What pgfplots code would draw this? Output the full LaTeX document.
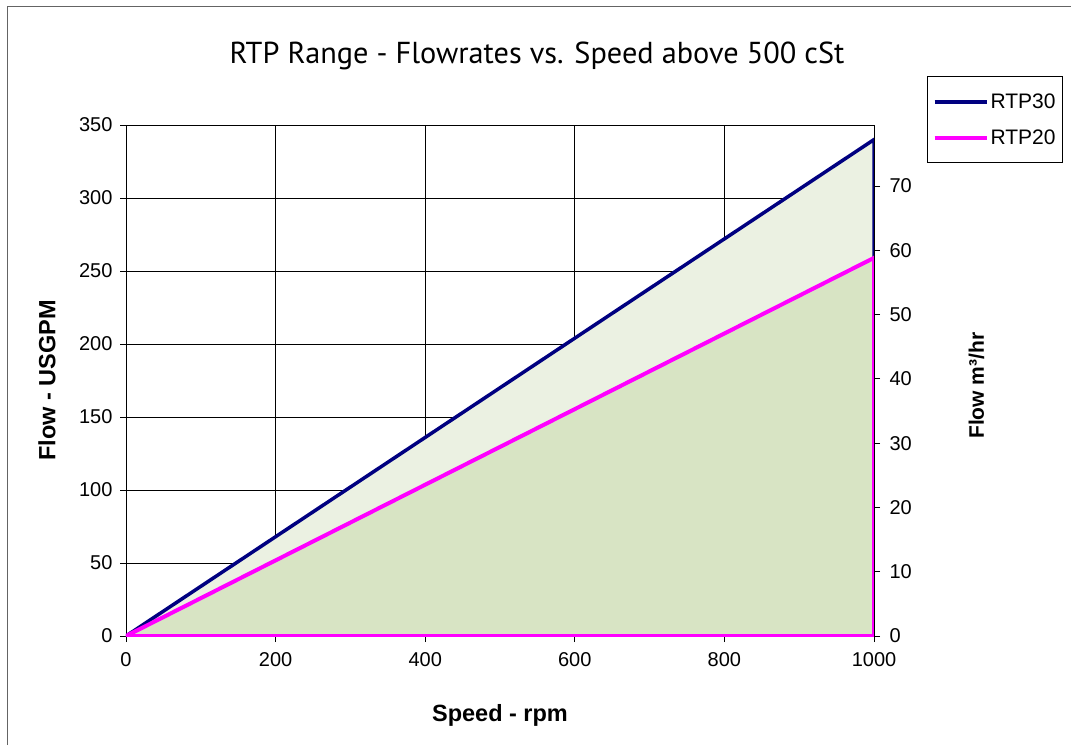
\documentclass[border=0pt]{standalone}
\usepackage{fontspec}
\setmainfont{Liberation Sans}
\newfontfamily\titlefont{PT Sans}
\usepackage{pgfplots}
\pgfplotsset{compat=1.18}
\definecolor{navyc}{RGB}{0,0,128}
\definecolor{magc}{RGB}{255,0,255}
\definecolor{fillA}{RGB}{235,241,226}
\definecolor{fillB}{RGB}{216,228,196}
\definecolor{framec}{RGB}{100,100,100}
\begin{document}
\begin{tikzpicture}[x=1pt,y=1pt]
\useasboundingbox (0,0) rectangle (1071,745);
\draw[framec, line width=1.5pt] (7.5,0) -- (7.5,738.5) -- (1071,738.5);
\node[font=\titlefont\fontsize{30.3}{34}\selectfont] at (537,689) {RTP Range - Flowrates vs. Speed above 500 cSt};
\begin{axis}[
  at={(126pt,109pt)}, anchor=south west,
  width=748pt, height=511pt, scale only axis,
  xmin=0, xmax=1000, ymin=0, ymax=350,
  xtick={0,200,...,1000}, ytick={0,50,...,350},
  xtick pos=bottom, ytick pos=left,
  tick align=outside, major tick length=6pt,
  grid=major, major grid style={black, line width=0.8pt},
  axis line style={black, line width=0.8pt},
  every tick/.style={black, line width=0.8pt},
  /pgf/number format/assume math mode=true,
  /pgf/number format/1000 sep={},
  tick label style={font=\fontsize{20}{24}\selectfont},
  xticklabel style={yshift=-7pt},
  yticklabel style={xshift=-4pt},
  xlabel={\bfseries Speed - rpm},
  ylabel={\bfseries Flow - USGPM},
  label style={font=\fontsize{23.5}{26}\selectfont},
  xlabel style={at={(axis description cs:0.5,-0.155)}, anchor=center},
  ylabel style={at={(axis description cs:-0.1056,0.5)}, anchor=center},
  legend style={at={(axis description cs:1.0709,1.0959)}, anchor=north west,
    draw=black, line width=1pt, font=\fontsize{21}{24}\selectfont,
    cells={anchor=west}, row sep=16pt, inner xsep=5pt, inner ysep=15pt},
  legend image code/.code={\draw[#1] (0pt,0pt) -- (52pt,0pt);},
]
\addplot[fill=fillA, draw=navyc, line width=3.5pt, forget plot] coordinates {(0,0) (1000,340)} \closedcycle;
\addplot[fill=fillB, draw=magc, line width=4pt, forget plot] coordinates {(0,0) (1000,259)} \closedcycle;
\addlegendimage{navyc, line width=4pt}
\addlegendentry{RTP30}
\addlegendimage{magc, line width=4pt}
\addlegendentry{RTP20}
\end{axis}
\begin{axis}[
  at={(126pt,109pt)}, anchor=south west,
  width=748pt, height=511pt, scale only axis,
  xmin=0, xmax=1000, ymin=0, ymax=79.49,
  axis x line=none, axis y line*=right,
  ytick={0,10,...,70},
  tick align=outside, major tick length=6pt,
  axis line style={black, line width=0.8pt},
  every tick/.style={black, line width=0.8pt},
  /pgf/number format/assume math mode=true,
  tick label style={font=\fontsize{20}{24}\selectfont},
  yticklabel style={xshift=6pt},
  ylabel={\bfseries Flow m³/hr},
  label style={font=\fontsize{21}{24}\selectfont},
  ylabel style={at={(axis description cs:1.137,0.49)}, anchor=center, rotate=0},
]
\addplot[draw=none] coordinates {(0,0)};
\end{axis}
\end{tikzpicture}
\end{document}
